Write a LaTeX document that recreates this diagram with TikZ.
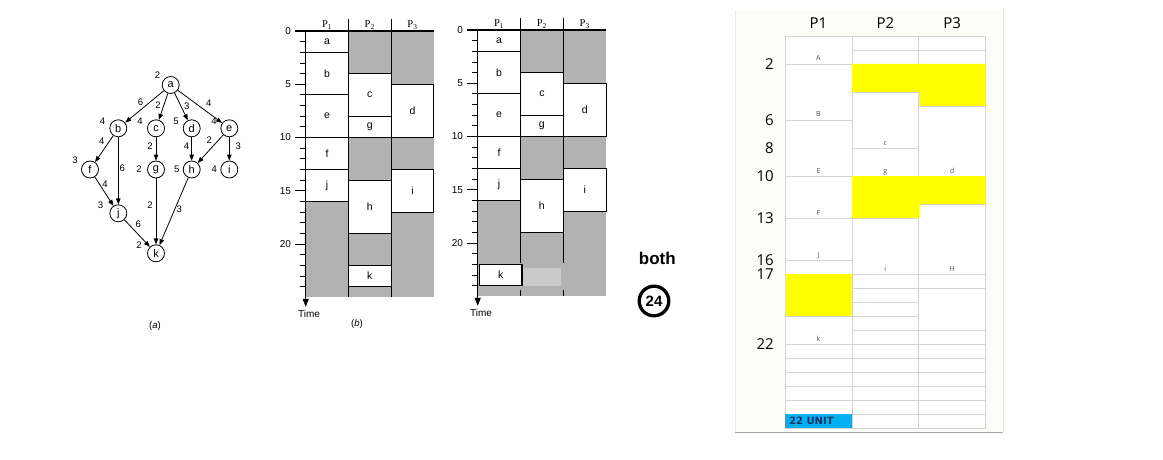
\documentclass[tikz,border=0pt]{standalone}
\usepackage{fontspec}
\setmainfont{Liberation Sans}
\newfontfamily\serifhead{Liberation Serif}
\newfontfamily\sheetfont{Open Sans}
\newfontfamily\unitfont{DejaVu Sans}
\usetikzlibrary{arrows.meta, positioning}
\definecolor{idlegray}{RGB}{178,178,178}
\definecolor{idlelight}{RGB}{202,202,202}
\definecolor{sheetgrid}{RGB}{212,212,212}
\definecolor{sheetyellow}{RGB}{255,255,0}
\definecolor{sheetbg}{RGB}{252,252,248}
\definecolor{sheetlabel}{RGB}{80,80,80}
\definecolor{unitblue}{RGB}{0,176,240}
\definecolor{unittext}{RGB}{24,52,100}

\begin{document}
\begin{tikzpicture}[x=1pt, y=-1pt,
    task/.style={circle, draw, line width=0.8pt, minimum size=17pt, inner sep=0pt, font=\fontsize{11}{12}\selectfont},
    wt/.style={inner sep=0pt, font=\fontsize{9.5}{10}\selectfont},
    wl/.style={inner sep=1pt, font=\fontsize{9.5}{10}\selectfont},
    dep/.style={-{Triangle[length=6pt, width=4.5pt]}, line width=0.8pt},
    job/.style={draw, fill=white, line width=0.9pt},
    jobtxt/.style={font=\fontsize{10.5}{12}\selectfont},
    idle/.style={fill=idlegray},
    sep/.style={line width=0.9pt},
    ytick/.style={anchor=east, inner sep=0pt, font=\fontsize{10}{11}\selectfont},
    phead/.style={anchor=base, inner sep=0pt, font=\serifhead\fontsize{10.5}{11}\selectfont},
    cell/.style={draw=sheetgrid, line width=0.8pt},
    shead/.style={font=\sheetfont\fontsize{15}{16}\selectfont},
    srow/.style={anchor=east, inner sep=0pt, font=\sheetfont\fontsize{15}{16}\selectfont},
    slabel/.style={anchor=base, inner sep=0pt, text=sheetlabel, font=\sheetfont\fontsize{7}{8}\selectfont}]
\useasboundingbox (0,0) rectangle (1163,460);

% (a) task graph
\foreach \n/\x/\y in {a/170.7/85, b/118.3/128.3, c/156/128.3, d/191.7/128.3, e/229.3/128.3,
    f/90/169.5, g/156/169.5, h/191.7/169.5, i/229.3/169.5, j/118.3/213.3, k/156/253.3}
  \node[task] (\n) at (\x,\y) {\n};
\foreach \n/\w/\dx/\dy in {a/2/-13.3/10, b/4/-15.7/7.3, c/4/-16/7.3, d/5/-15.7/7.3, e/4/-15.3/7.3,
    f/3/-15/9.3, g/2/-17/0, h/5/-15/0, i/4/-15/0, j/3/-17.7/8.3, k/2/-17/8.3}
  \node[wt, xshift=\dx pt, yshift=\dy pt] (w\n) at (\n) {\w};
\draw[dep] (a) -- node[wl, pos=0.5, above left] {6} (b);
\draw[dep] (a) -- node[wl, pos=0.43, left=2pt] {2} (c);
\draw[dep] (a) -- node[wl, pos=0.5, right=1.5pt] {3} (d);
\draw[dep] (a) -- node[wl, pos=0.58, above right=1.5pt] {4} (e);
\draw[dep] (b) -- node[wl, pos=0.39, above left=0.5pt] {4} (f);
\draw[dep] (b) -- node[wl, pos=0.46, right=0pt] {6} (j);
\draw[dep] (c) -- node[wl, pos=0.37, left=2pt] {2} (g);
\draw[dep] (d) -- node[wl, pos=0.37, left=1.2pt] {4} (h);
\draw[dep] (e) -- node[wl, pos=0.38, above left=0.5pt] {2} (h);
\draw[dep] (e) -- node[wl, pos=0.37, right=5pt] {3} (i);
\draw[dep] (f) -- node[wl, pos=0.38, above right=-1.5pt] {4} (j);
\draw[dep] (g) -- node[wl, pos=0.4, left=2pt] {2} (k);
\draw[dep] (h) -- node[wl, pos=0.47, right=0.5pt] {3} (k);
\draw[dep] (j) -- node[wl, pos=0.37, above right=0.5pt] {6} (k);
\node[font=\fontsize{9.5}{10}\selectfont] (capa) at (155,326) {(\textit{a})};

% (b) schedule
\begin{scope}[x=42.7pt, y=-10.65pt, shift={(305.7pt,-31pt)}]
  \fill[idle] (0,0) rectangle (3,25);
  \foreach \c/\s/\e/\t in {0/0/2/a, 0/2/6/b, 0/6/10/e, 0/10/13/f, 0/13/16/j,
      1/4/8/c, 1/8/10/g, 1/14/19/h, 1/22/24/k, 2/5/10/d, 2/13/17/i}
    \draw[job] (\c,\s) rectangle node[jobtxt] (b\t) {\t} (\c+1,\e);
  \foreach \c in {1,2} \draw[sep] (\c,-1.1) -- (\c,25);
  \draw[line width=1.1pt] ([xshift=-10.7pt]0,0) -- (3,0);
  \draw[line width=1.1pt, -{Triangle[length=8pt, width=6pt]}] (0,0) -- (0,25.9);
  \foreach \t in {1,...,24} \draw[line width=0.8pt] ([xshift=-5.7pt]0,\t) -- (0,\t);
  \foreach \t in {0,5,10,15,20} {
    \draw[line width=0.8pt] ([xshift=-10.7pt]0,\t) -- (0,\t);
    \node[ytick] (bt\t) at ([xshift=-14.5pt]0,\t) {\t};
  }
  \foreach \n in {1,2,3} \node[phead] (bp\n) at ([yshift=3.5pt]\n-0.5,0) {P\textsubscript{\n}};
  \node[font=\fontsize{10}{11}\selectfont] (btime) at (0.08,26.6) {Time};
  \node[font=\fontsize{9.5}{10}\selectfont] (capb) at (1.2,27.5) {(\textit{b})};
\end{scope}

% second schedule, k moved to P1
\begin{scope}[x=42.8pt, y=-10.65pt, shift={(477.7pt,-30pt)}]
  \fill[idle] (0,0) rectangle (3,25);
  \foreach \c/\s/\e/\t in {0/0/2/a, 0/2/6/b, 0/6/10/e, 0/10/13/f, 0/13/16/j,
      1/4/8/c, 1/8/10/g, 1/14/19/h, 2/5/10/d, 2/13/17/i}
    \draw[job] (\c,\s) rectangle node[jobtxt] (c\t) {\t} (\c+1,\e);
  \fill[idlelight] (1.065,22.33) rectangle (1.946,24.06);
  \draw[job, line width=1.5pt] ([xshift=1.6pt]0,22) rectangle node[jobtxt] (ck) {k} ([xshift=1.6pt]1,24);
  \foreach \c in {1,2} {
    \draw[sep] (\c,-1.1) -- (\c,21.9);
    \draw[sep] (\c,24.45) -- (\c,25);
  }
  \draw[line width=1.1pt] ([xshift=-10.7pt]0,0) -- (3,0);
  \draw[line width=1.1pt, -{Triangle[length=8pt, width=6pt]}] (0,0) -- (0,25.9);
  \foreach \t in {1,...,24} \draw[line width=0.8pt] ([xshift=-5.7pt]0,\t) -- (0,\t);
  \foreach \t in {0,5,10,15,20} {
    \draw[line width=0.8pt] ([xshift=-10.7pt]0,\t) -- (0,\t);
    \node[ytick] (ct\t) at ([xshift=-14.5pt]0,\t) {\t};
  }
  \foreach \n in {1,2,3} \node[phead] (cp\n) at ([yshift=3.5pt]\n-0.5,0) {P\textsubscript{\n}};
  \node[font=\fontsize{10}{11}\selectfont] (ctime) at (0.08,26.6) {Time};
\end{scope}

% total
\node[font=\bfseries\fontsize{17}{18}\selectfont] (both) at (657.3,258.3) {both};
\node[circle, draw, line width=3.3pt, minimum size=29.6pt, inner sep=0pt,
  font=\bfseries\fontsize{15}{16}\selectfont] (total) at (654,301) {24};

% spreadsheet
\fill[sheetbg] (735,10) rectangle (1003,432);
\draw[black!8] (735,10) -- (735,432);
\draw[black!10] (1003,10) -- (1003,432);
\draw[black!35, line width=1pt] (735,432) -- (1003,432);
\begin{scope}[x=66.9pt, y=-14pt, shift={(785pt,-36pt)}]
  \fill[white] (0,0) rectangle (3,28);
  \draw[cell] (0,0) rectangle (3,28);
  \foreach \c in {1,2} \draw[cell] (\c,0) -- (\c,28);
  \foreach \t in {2,6,10,13,16,17,20,22,23,24,25,26,27} \draw[cell] (0,\t) -- (1,\t);
  \foreach \t in {1,2,4,8,10,13,17,18,19,20,21,22,23,24,25,26,27} \draw[cell] (1,\t) -- (2,\t);
  \foreach \t in {1,2,5,10,12,17,18,21,22,23,24,25,26,27} \draw[cell] (2,\t) -- (3,\t);
  \fill[sheetyellow] (1,2) -- (3,2) -- (3,5) -- (2,5) -- (2,4) -- (1,4) -- cycle;
  \fill[sheetyellow] (1,10) -- (3,10) -- (3,12) -- (2,12) -- (2,13) -- (1,13) -- cycle;
  \fill[sheetyellow] (0,17) rectangle (1,20);
  \fill[unitblue] (0,27) rectangle (1,28);
  \node[anchor=west, inner sep=0pt, text=unittext, font=\unitfont\bfseries\fontsize{10}{11}\selectfont]
    (unit) at ([xshift=4pt]0,27.5) {22 UNIT};
  \foreach \c in {1,2,3} \node[shead] (sh\c) at (\c-0.5,-0.9) {P\c};
  \foreach \t in {2,6,8,10,13,16,17,22} \node[srow] (sr\t) at ([xshift=-11pt]0,\t) {\t};
  \foreach \c/\t/\l in {0/2/A, 0/6/B, 0/10/E, 0/13/F, 0/16/J, 0/22/k,
      1/8/c, 1/10/g, 1/17/i, 2/10/d, 2/17/H}
    \node[slabel] (sl\c\t) at ([yshift=3pt]\c+0.5,\t) {\l};
\end{scope}
\end{tikzpicture}
\end{document}
